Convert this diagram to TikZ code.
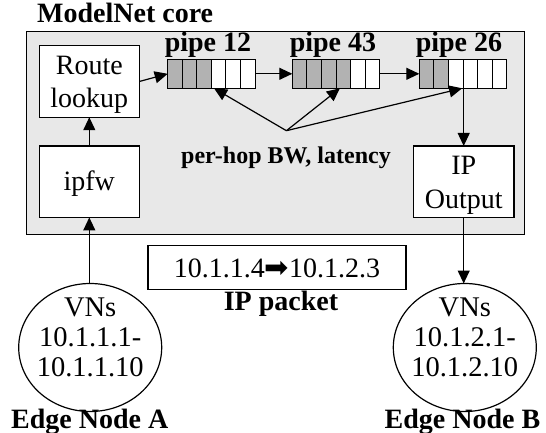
\documentclass[tikz,border=0pt]{standalone}
\usepackage{fontspec}
\setmainfont{Liberation Serif}
\newfontfamily\symfont{DejaVu Sans}
\usetikzlibrary{arrows.meta,calc,shapes.geometric}
\definecolor{coregray}{RGB}{232,232,232}
\definecolor{cellgray}{RGB}{178,178,178}
\tikzset{
  arr/.style={line width=1.2pt,-{Triangle[length=13pt,width=12pt]}},
  box/.style={draw,fill=white,line width=1.2pt,inner sep=0pt,outer sep=0pt,minimum width=100pt,minimum height=71.5pt},
  boxtext/.style={align=center,inner sep=0pt,font=\fontsize{28}{33.5}\selectfont},
  pipebox/.style={draw,fill=white,line width=1.2pt,inner sep=0pt,outer sep=0pt,minimum width=87.4pt,minimum height=29pt},
  pipelabel/.style={anchor=base,inner sep=0pt,font=\bfseries\fontsize{28}{32}\selectfont},
  edgecirc/.style={draw,ellipse,line width=1.2pt,inner sep=0pt,outer sep=0pt,minimum width=143pt,minimum height=128pt},
  circtext/.style={align=center,inner sep=0pt,font=\fontsize{28.5}{30}\selectfont},
  boldlabel/.style={anchor=base,inner sep=0pt,font=\bfseries\fontsize{28}{32}\selectfont}
}
\begin{document}
\begin{tikzpicture}[x=1pt,y=-1pt]
\useasboundingbox[fill=white] (0,0) rectangle (546,433);

% core
\node[draw,fill=coregray,line width=1.3pt,inner sep=0pt,outer sep=0pt,
      minimum width=497.6pt,minimum height=202.6pt,anchor=north west] (core) at (26.7,31.7) {};
\node[anchor=base west,inner sep=0pt,font=\bfseries\fontsize{28}{32}\selectfont] (title) at (37,22.5) {ModelNet core};

% boxes
\node[box] (route) at (89.3,81.5) {};
\node[boxtext] (routeT) at ([yshift=-3.4pt]route.center) {Route\\lookup};
\node[box] (ipfw) at (89.3,181.7) {};
\node[boxtext] (ipfwT) at ([yshift=-1.8pt]ipfw.center) {ipfw};
\node[box,minimum width=100.7pt] (ipout) at (463.7,181.7) {};
\node[boxtext] (ipoutT) at ([yshift=-3.7pt]ipout.center) {IP\\Output};

% pipes
\node[pipebox] (pipeA) at (211.4,73.8) {};
\node[pipebox] (pipeB) at (336,73.8) {};
\node[pipebox] (pipeC) at (463,73.8) {};
\foreach \p/\n in {pipeA/3,pipeB/4,pipeC/2}{
  \foreach \i in {1,...,\n}{
    \fill[cellgray] ($(\p.north west)+({(\i-1)*14.567},0)$) rectangle ++(14.567,29);
  }
  \foreach \i in {1,...,5}{
    \draw[line width=1pt] ($(\p.north west)+({\i*14.567},0)$) -- ++(0,29);
  }
  \draw[line width=1.2pt] (\p.north west) rectangle (\p.south east);
}
\node[pipelabel] (lblA) at (208,51.7) {pipe 12};
\node[pipelabel] (lblB) at (333,51.7) {pipe 43};
\node[pipelabel] (lblC) at (459,51.7) {pipe 26};

% connectors in core
\draw[arr] (ipfw.north) -- (route.south);
\draw[arr] (route.east) -- (pipeA.west);
\draw[arr] (pipeA.east) -- (pipeB.west);
\draw[arr] (pipeB.east) -- (pipeC.west);
\draw[arr] (ipout.north |- pipeC.south) -- (ipout.north);

\coordinate (hub) at (286.4,130.7);
\draw[arr] (hub) -- ($(pipeA.south west)!0.53!(pipeA.south east)$);
\draw[arr] (hub) -- ($(pipeB.south west)!0.545!(pipeB.south east)$);
\draw[arr] (hub) -- ($(pipeC.south west)!0.49!(pipeC.south east)$);
\node[anchor=base,inner sep=0pt,font=\bfseries\fontsize{24}{28}\selectfont] (perhop) at (286,163.5) {per-hop BW, latency};

% packet
\node[draw,line width=1.2pt,fill=white,inner sep=0pt,outer sep=0pt,minimum width=258pt,minimum height=43.6pt,
      text height=19pt,text depth=0pt,font=\fontsize{28}{32}\selectfont] (pkt) at (277,267.5)
      {10.1.1.4{\symfont\fontsize{29}{29}\selectfont ➡}10.1.2.3};
\node[boldlabel] (pktlbl) at (281,310) {IP packet};

% edge nodes
\node[edgecirc] (edgeA) at (90.2,347.5) {};
\node[circtext] (edgeAT) at ([yshift=10pt]edgeA.center) {VNs\\10.1.1.1-\\10.1.1.10};
\node[edgecirc] (edgeB) at (464.8,347.5) {};
\node[circtext] (edgeBT) at ([yshift=10pt]edgeB.center) {VNs\\10.1.2.1-\\10.1.2.10};
\node[boldlabel] (edgeAL) at (89.7,428) {Edge Node A};
\node[boldlabel] (edgeBL) at (462.4,428) {Edge Node B};

\draw[arr] (ipfw.south |- edgeA.north) -- (ipfw.south);
\draw[arr] (ipout.south) -- (ipout.south |- edgeB.north);
\end{tikzpicture}
\end{document}
